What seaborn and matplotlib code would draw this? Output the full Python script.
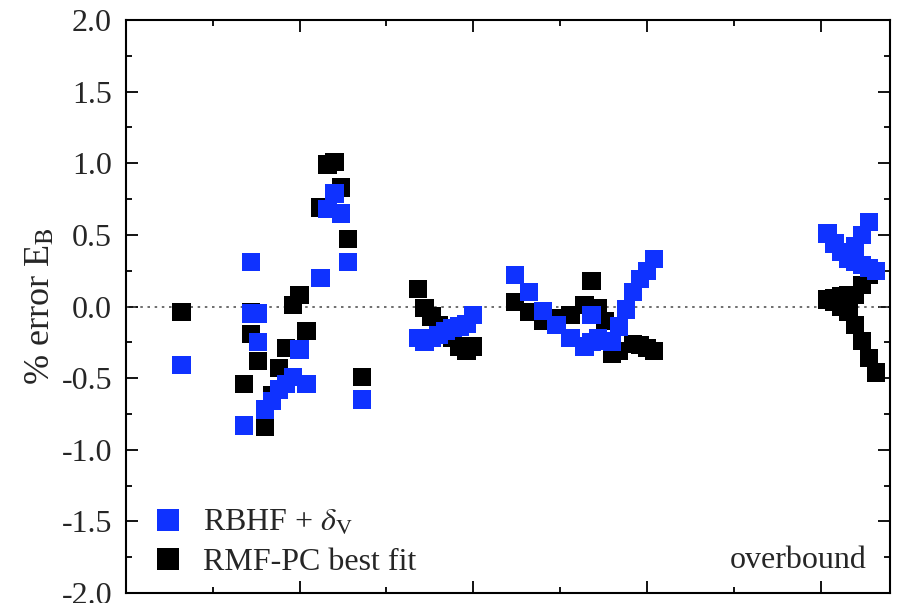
import matplotlib
matplotlib.use("Agg")
import matplotlib.pyplot as plt
from matplotlib.lines import Line2D
from matplotlib.ticker import MultipleLocator, NullFormatter
import seaborn as sns
import pandas as pd

# ---- data ----
rbhf_x = [16, 34, 36, 36, 38, 38, 40, 42, 44, 46, 48, 50, 52, 56, 58, 60, 62, 64, 68,
          84, 86, 88, 90, 92, 94, 96, 98, 100,
          112, 116, 120, 124, 128, 132, 134, 134, 136, 138, 140, 142, 144, 146, 148, 150, 152,
          202, 204, 206, 208, 210, 212, 214, 216, 208, 210, 212, 214]
rbhf_y = [-0.41, -0.83, 0.31, -0.05, -0.05, -0.25, -0.72, -0.66, -0.58, -0.54, -0.49, -0.30, -0.54,
          0.20, 0.68, 0.79, 0.65, 0.31, -0.65,
          -0.22, -0.245, -0.22, -0.20, -0.17, -0.15, -0.14, -0.12, -0.06,
          0.22, 0.10, -0.03, -0.13, -0.22, -0.28, -0.06, -0.25, -0.22, -0.24, -0.245, -0.14,
          -0.02, 0.10, 0.19, 0.25, 0.33,
          0.51, 0.44, 0.38, 0.33, 0.31, 0.29, 0.27, 0.25, 0.36, 0.42, 0.50, 0.59]

rmf_x = [16, 34, 36, 36, 38, 40, 42, 44, 46, 48, 50, 52, 56, 58, 60, 62, 64, 68,
         84, 86, 88, 90, 92, 94, 96, 98, 100,
         112, 116, 120, 124, 128, 132, 134, 136, 138, 140, 142, 146, 148, 150, 152,
         202, 204, 206, 208, 210, 212, 214, 216, 204, 206, 208, 210, 212, 214]
rmf_y = [-0.04, -0.54, -0.04, -0.19, -0.38, -0.84, -0.62, -0.43, -0.29, 0.01, 0.08, -0.17,
         0.69, 0.99, 1.01, 0.83, 0.47, -0.49,
         0.12, -0.01, -0.07, -0.13, -0.18, -0.22, -0.28, -0.31, -0.28,
         0.03, -0.04, -0.10, -0.08, -0.06, 0.01, 0.18, -0.01, -0.10, -0.33, -0.31,
         -0.26, -0.27, -0.29, -0.31,
         0.05, 0.03, 0.00, -0.04, -0.13, -0.24, -0.36, -0.46, 0.06, 0.07, 0.08, 0.08, 0.15, 0.22]

series_names = ["RMF-PC best fit", r"RBHF + $\delta_{\rm V}$"]
series_colors = ["#000000", "#0F32FF"]

df = pd.DataFrame({
    "A": rmf_x + rbhf_x,
    "err": rmf_y + rbhf_y,
    "model": [series_names[0]] * len(rmf_x) + [series_names[1]] * len(rbhf_x),
})

# ---- style ----
sns.set_style("ticks")
plt.rcParams["font.family"] = ["Liberation Serif", "DejaVu Serif"]
plt.rcParams["mathtext.fontset"] = "stix"

fig = plt.figure(figsize=(9.03, 6.03), dpi=100)
ax = fig.add_axes([126 / 903, 10 / 603, 764 / 903, 573 / 603])

ax.axhline(0, color="#555555", lw=1.2, ls=(0, (1.5, 2.8)), zorder=1)

sns.scatterplot(data=df, x="A", y="err", hue="model",
                palette=dict(zip(series_names, series_colors)),
                marker="s", s=175, linewidth=0, legend=False, ax=ax, zorder=3)

ax.set_xlim(0, 220)
ax.set_ylim(-2.0, 2.0)
ax.xaxis.set_major_locator(MultipleLocator(50))
ax.xaxis.set_minor_locator(MultipleLocator(25))
ax.xaxis.set_major_formatter(NullFormatter())
ax.yaxis.set_major_locator(MultipleLocator(0.5))
ax.yaxis.set_minor_locator(MultipleLocator(0.25))
ax.yaxis.set_major_formatter(matplotlib.ticker.FormatStrFormatter("%.1f"))

ax.tick_params(which="both", direction="in", top=True, right=True, width=1.3, color="black")
ax.tick_params(which="major", length=8.5)
ax.tick_params(which="minor", length=4.3)
ax.tick_params(axis="y", labelsize=23, pad=10)
for sp in ax.spines.values():
    sp.set_linewidth(1.5)
    sp.set_color("black")

ax.set_xlabel("")
ax.set_ylabel(r"% error E$_{\rm B}$", fontsize=26, labelpad=3)

handles = [Line2D([], [], ls="none", marker="s", markersize=16, markeredgewidth=0,
                  color=series_colors[1]),
           Line2D([], [], ls="none", marker="s", markersize=16, markeredgewidth=0,
                  color=series_colors[0])]
ax.legend(handles, [series_names[1], series_names[0]], loc="lower left",
          bbox_to_anchor=(0.013, 0.0), frameon=False, fontsize=23,
          handlelength=1.0, handletextpad=0.6, labelspacing=0.3, borderaxespad=0.1)

ax.text(0.969, 0.056, "overbound", transform=ax.transAxes, ha="right", va="center",
        fontsize=23)

fig.savefig("out.png", dpi=100)
